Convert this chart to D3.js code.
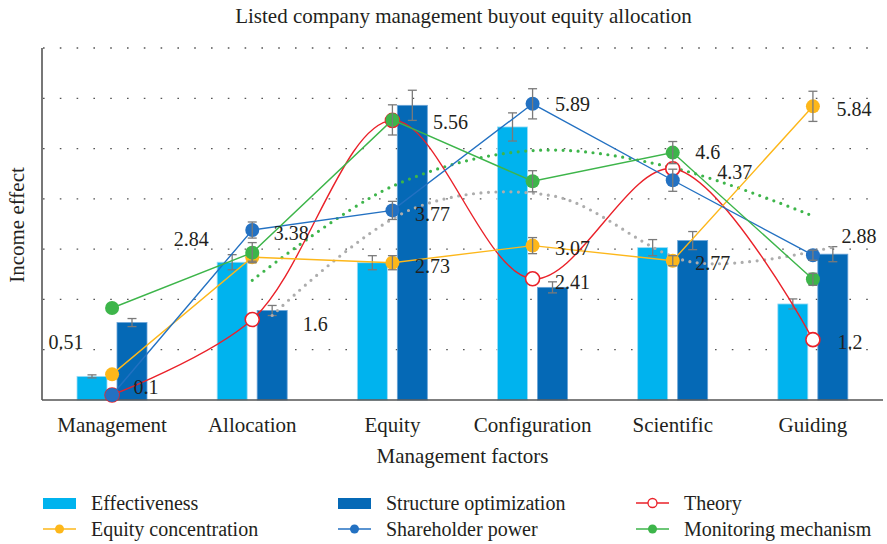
<!DOCTYPE html>
<html>
<head>
<meta charset="utf-8">
<script src="https://cdn.jsdelivr.net/npm/d3@7"></script>
<style>
  html, body { margin: 0; padding: 0; background: #fff; }
  svg { display: block; font-family: "Liberation Serif", "Times New Roman", serif; }
</style>
</head>
<body>
<svg id="chart" width="887" height="544"></svg>
<script>
// ---------------- data ----------------
const categories = ["Management", "Allocation", "Equity", "Configuration", "Scientific", "Guiding"];
const yTicks = [1, 2, 3, 4, 5, 6, 7];

const effectiveness      = [0.47, 2.74, 2.73, 5.43, 3.03, 1.91];
const effectivenessErr   = [0.03, 0.15, 0.14, 0.28, 0.16, 0.10];
const structure          = [1.54, 1.78, 5.86, 2.24, 3.17, 2.90];
const structureErr       = [0.08, 0.10, 0.30, 0.11, 0.18, 0.15];

const theory             = [0.10, 1.60, 5.56, 2.41, 4.60, 1.20];
const equityConc         = [0.51, 2.84, 2.73, 3.07, 2.77, 5.84];
const equityConcErr      = [0.00, 0.08, 0.14, 0.16, 0.10, 0.30];
const shareholder        = [0.10, 3.38, 3.77, 5.89, 4.37, 2.88];
const shareholderErr     = [0.00, 0.16, 0.18, 0.30, 0.22, 0.10];
const monitoring         = [1.83, 2.93, 5.57, 4.35, 4.92, 2.40];
const monitoringErr      = [0.00, 0.20, 0.30, 0.21, 0.22, 0.12];

// moving-average trend lines, from Allocation onward
const trendCategories    = ["Allocation", "Equity", "Configuration", "Scientific", "Guiding"];
const structureTrend     = [1.68, 3.80, 4.06, 2.74, 3.04];
const monitoringTrend    = [2.38, 4.25, 4.96, 4.62, 3.66];

// value labels: [series, category, text]
const valueLabels = [
  ["equityConc", "Management", "0.51"],
  ["theory", "Management", "0.1"],
  ["equityConc", "Allocation", "2.84"],
  ["shareholder", "Allocation", "3.38"],
  ["theory", "Allocation", "1.6"],
  ["theory", "Equity", "5.56"],
  ["shareholder", "Equity", "3.77"],
  ["equityConc", "Equity", "2.73"],
  ["shareholder", "Configuration", "5.89"],
  ["equityConc", "Configuration", "3.07"],
  ["theory", "Configuration", "2.41"],
  ["theory", "Scientific", "4.6"],
  ["shareholder", "Scientific", "4.37"],
  ["equityConc", "Scientific", "2.77"],
  ["equityConc", "Guiding", "5.84"],
  ["shareholder", "Guiding", "2.88"],
  ["theory", "Guiding", "1.2"]
];
// label placement offsets (presentation only), same order as valueLabels
const labelOffsets = [
  [-46, -32], [34, -8], [-61, -18], [39, 3], [63, 4], [58, 2], [40, 4], [40, 3],
  [40, 0], [40, 2], [40, 3], [35, -17], [62, -8], [40, 2], [41, 3], [46, -19], [37, 2]
];

// ---------------- styles ----------------
const C = {
  eff: "#00b3ee", str: "#0569b6", theory: "#ea2129", equity: "#fdb71a",
  share: "#2371c2", monitor: "#3db54a", gray: "#adadad", err: "#7a7a7a", axis: "#555"
};

const svg = d3.select("#chart");
const plot = { left: 42, right: 883, top: 48, bottom: 400 };

const x = d3.scaleBand().domain(categories).range([plot.left, plot.right]).padding(0);
const xSub = d3.scaleBand().domain(["eff", "str"]).range([35, 105]).paddingInner(0.25);
const y = d3.scaleLinear().domain([0, 7]).range([plot.bottom, plot.top]);
const cx = c => x(c) + x.bandwidth() / 2;

// title
svg.append("text").attr("x", (plot.left + plot.right) / 2 + 1).attr("y", 23)
  .attr("text-anchor", "middle").attr("font-size", 21).attr("fill", "#231f20")
  .text("Listed company management buyout equity allocation");

// grid
svg.append("g").selectAll("line").data(yTicks).join("line")
  .attr("x1", plot.left + 1).attr("x2", plot.right)
  .attr("y1", d => y(d)).attr("y2", d => y(d))
  .attr("stroke", "#555").attr("stroke-width", 1.3)
  .attr("stroke-dasharray", "1.6,15.2");

// bars
const barG = svg.append("g");
function bars(vals, key, color, stroke) {
  barG.append("g").selectAll("rect").data(categories).join("rect")
    .attr("x", c => x(c) + xSub(key))
    .attr("width", xSub.bandwidth())
    .attr("y", (c, i) => y(vals[i]))
    .attr("height", (c, i) => y(0) - y(vals[i]))
    .attr("fill", color).attr("stroke", stroke).attr("stroke-width", 0.8);
}
bars(effectiveness, "eff", C.eff, "#9fdcf4");
bars(structure, "str", C.str, "#6aa3d6");

function errorBars(g, xs, vals, errs) {
  vals.forEach((v, i) => {
    const e = errs[i];
    if (!e) return;
    const xx = xs[i], y1 = y(v + e), y2 = y(v - e);
    g.append("line").attr("x1", xx).attr("x2", xx).attr("y1", y1).attr("y2", y2);
    g.append("line").attr("x1", xx - 4.5).attr("x2", xx + 4.5).attr("y1", y1).attr("y2", y1);
    g.append("line").attr("x1", xx - 4.5).attr("x2", xx + 4.5).attr("y1", y2).attr("y2", y2);
  });
}
const barErrG = svg.append("g").attr("stroke", C.err).attr("stroke-width", 1.3);
errorBars(barErrG, categories.map(c => x(c) + xSub("eff") + xSub.bandwidth() / 2), effectiveness, effectivenessErr);
errorBars(barErrG, categories.map(c => x(c) + xSub("str") + xSub.bandwidth() / 2), structure, structureErr);

// axes lines
svg.append("line").attr("x1", plot.left).attr("x2", plot.left).attr("y1", plot.top).attr("y2", plot.bottom)
  .attr("stroke", C.axis).attr("stroke-width", 1.6);
svg.append("line").attr("x1", plot.left).attr("x2", plot.right).attr("y1", plot.bottom).attr("y2", plot.bottom)
  .attr("stroke", C.axis).attr("stroke-width", 1.6);

// trend lines (dotted)
const trendLine = d3.line().curve(d3.curveCatmullRom.alpha(0.5));
svg.append("path")
  .attr("d", trendLine(trendCategories.map((c, i) => [x(c) + xSub("str") + xSub.bandwidth() / 2, y(structureTrend[i])])))
  .attr("fill", "none").attr("stroke", C.gray).attr("stroke-width", 3.2)
  .attr("stroke-linecap", "round").attr("stroke-dasharray", "0,7.5");
svg.append("path")
  .attr("d", trendLine(trendCategories.map((c, i) => [cx(c), y(monitoringTrend[i])])))
  .attr("fill", "none").attr("stroke", C.monitor).attr("stroke-width", 3.2)
  .attr("stroke-linecap", "round").attr("stroke-dasharray", "0,7.5");

// lines
const straight = d3.line();
const smooth = d3.line().curve(d3.curveCatmullRom.alpha(0.5));
const series = [
  { key: "theory", vals: theory, errs: null, color: C.theory, line: smooth, open: true },
  { key: "equityConc", vals: equityConc, errs: equityConcErr, color: C.equity, line: straight },
  { key: "shareholder", vals: shareholder, errs: shareholderErr, color: C.share, line: straight },
  { key: "monitoring", vals: monitoring, errs: monitoringErr, color: C.monitor, line: straight }
];
const seriesByKey = {};
series.forEach(s => {
  seriesByKey[s.key] = s;
  const pts = categories.map((c, i) => [cx(c), y(s.vals[i])]);
  svg.append("path").attr("d", s.line(pts)).attr("fill", "none")
    .attr("stroke", s.color).attr("stroke-width", 1.4);
  svg.append("g").selectAll("circle").data(pts).join("circle")
    .attr("cx", d => d[0]).attr("cy", d => d[1]).attr("r", 7)
    .attr("fill", s.open ? "#fff" : s.color)
    .attr("stroke", s.open ? s.color : "none").attr("stroke-width", 1.6);
  if (s.errs) {
    const g = svg.append("g").attr("stroke", C.err).attr("stroke-width", 1.3);
    errorBars(g, categories.map(cx), s.vals, s.errs);
  }
});

// value labels
svg.append("g").selectAll("text").data(valueLabels).join("text")
  .attr("x", (d, i) => cx(d[1]) + labelOffsets[i][0])
  .attr("y", (d, i) => y(seriesByKey[d[0]].vals[categories.indexOf(d[1])]) + labelOffsets[i][1])
  .attr("text-anchor", "middle").attr("dominant-baseline", "central")
  .attr("font-size", 20).attr("fill", "#231f20")
  .text(d => d[2]);

// category axis
const xAxis = d3.axisBottom(x).tickSize(0).tickPadding(17);
const xg = svg.append("g").attr("transform", `translate(0,${plot.bottom})`).call(xAxis);
xg.select(".domain").remove();
xg.selectAll("text").attr("font-size", 21).attr("fill", "#231f20")
  .attr("font-family", "Liberation Serif, serif");

svg.append("text").attr("x", (plot.left + plot.right) / 2).attr("y", 463)
  .attr("text-anchor", "middle").attr("font-size", 21).attr("fill", "#231f20")
  .text("Management factors");

svg.append("text").attr("transform", `translate(24,225) rotate(-90)`)
  .attr("text-anchor", "middle").attr("font-size", 21).attr("fill", "#231f20")
  .text("Income effect");

// legend
const legendItems = [
  { label: "Effectiveness", type: "rect", color: C.eff, x: 43, y: 503 },
  { label: "Structure optimization", type: "rect", color: C.str, x: 338, y: 503 },
  { label: "Theory", type: "open", color: C.theory, x: 636, y: 503 },
  { label: "Equity concentration", type: "dot", color: C.equity, x: 43, y: 529 },
  { label: "Shareholder power", type: "dot", color: C.share, x: 338, y: 529 },
  { label: "Monitoring mechanism", type: "dot", color: C.monitor, x: 636, y: 529 }
];
const lg = svg.append("g");
legendItems.forEach(it => {
  if (it.type === "rect") {
    lg.append("rect").attr("x", it.x).attr("y", it.y - 5).attr("width", 33).attr("height", 11).attr("fill", it.color);
  } else {
    lg.append("line").attr("x1", it.x).attr("x2", it.x + 33).attr("y1", it.y).attr("y2", it.y)
      .attr("stroke", it.color).attr("stroke-width", 1.4);
    lg.append("circle").attr("cx", it.x + 16.5).attr("cy", it.y).attr("r", 4.5)
      .attr("fill", it.type === "open" ? "#fff" : it.color)
      .attr("stroke", it.type === "open" ? it.color : "none").attr("stroke-width", 1.3);
  }
  lg.append("text").attr("x", it.x + 48).attr("y", it.y).attr("dominant-baseline", "central")
    .attr("font-size", 20).attr("fill", "#231f20").text(it.label);
});
</script>
</body>
</html>
